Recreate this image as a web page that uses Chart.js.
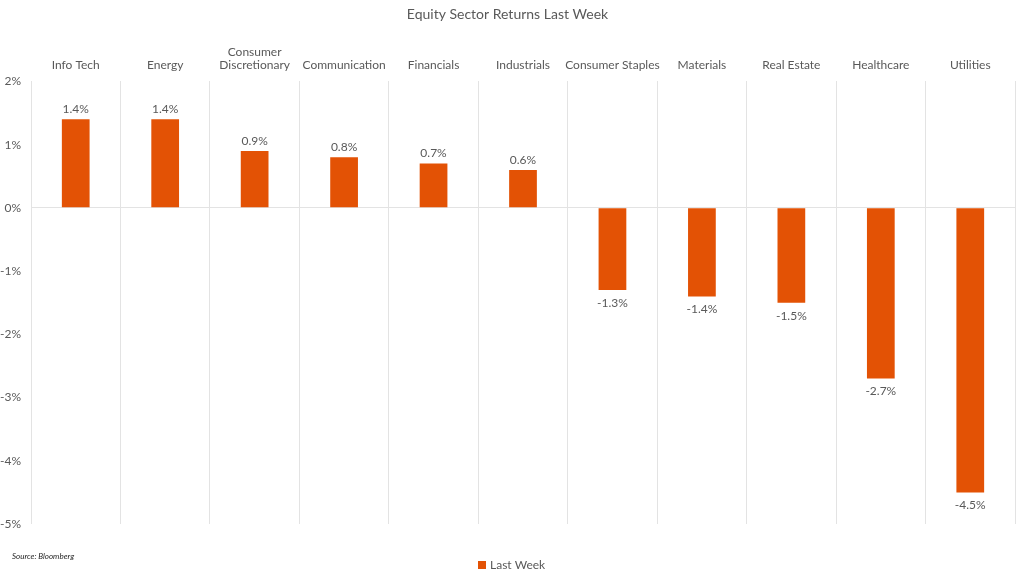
<!DOCTYPE html>
<html><head><meta charset="utf-8">
<script src="https://cdn.jsdelivr.net/npm/chart.js@4/dist/chart.umd.min.js"></script>
<style>html,body{margin:0;padding:0;background:#fff;}#wrap{width:1024px;height:580px;position:relative;}</style>
</head><body><div id="wrap"><canvas id="c" width="1024" height="580"></canvas></div>
<script>
const categories = ['Info Tech','Energy',['Consumer','Discretionary'],'Communication','Financials','Industrials','Consumer Staples','Materials','Real Estate','Healthcare','Utilities'];
const lastWeek = [1.4,1.4,0.9,0.8,0.7,0.6,-1.3,-1.4,-1.5,-2.7,-4.5];
const yTicks = [-5,-4,-3,-2,-1,0,1,2];
const titleText = 'Equity Sector Returns Last Week';
const seriesName = 'Last Week';
const sourceText = 'Source: Bloomberg';

const FONT = 'Lato, "Open Sans", sans-serif';
const TXT = '#595959';
const BAR = '#E35205';

const labelPlugin = {
  id: 'barLabels',
  afterDatasetsDraw(chart) {
    const ctx = chart.ctx;
    const meta = chart.getDatasetMeta(0);
    ctx.save();
    ctx.font = '12px ' + FONT;
    ctx.fillStyle = TXT;
    ctx.textAlign = 'center';
    ctx.textBaseline = 'middle';
    meta.data.forEach((bar, i) => {
      const v = chart.data.datasets[0].data[i];
      const txt = v.toFixed(1) + '%';
      if (v >= 0) ctx.fillText(txt, bar.x, bar.y - 10);
      else ctx.fillText(txt, bar.x, bar.y + 13);
    });
    ctx.restore();
  }
};
const footerPlugin = {
  id: 'footer',
  afterDraw(chart) {
    const ctx = chart.ctx;
    ctx.save();
    ctx.font = 'italic 8px ' + FONT;
    ctx.fillStyle = '#262626';
    ctx.textAlign = 'left';
    ctx.textBaseline = 'middle';
    ctx.fillText(sourceText, 12, 556);
    const ds = chart.data.datasets[0];
    ctx.font = '12px ' + FONT;
    const tw = ctx.measureText(ds.label).width;
    const total = 8 + 4 + tw;
    const x0 = Math.round(512 - total / 2);
    ctx.fillStyle = ds.backgroundColor;
    ctx.fillRect(x0, 561, 8, 8);
    ctx.fillStyle = TXT;
    ctx.fillText(ds.label, x0 + 12, 565);
    ctx.restore();
  }
};

new Chart(document.getElementById('c'), {
  type: 'bar',
  data: { labels: categories, datasets: [{ label: seriesName, data: lastWeek, backgroundColor: BAR, borderWidth: 0, barPercentage: 0.31, categoryPercentage: 1.0 }] },
  options: {
    responsive: false, animation: false,
    layout: { padding: { left: 0, right: 9, top: 0, bottom: 56 } },
    plugins: {
      title: { display: true, text: titleText, color: TXT, font: { family: FONT, size: 14, weight: 'normal' }, padding: { top: 6, bottom: 13 } },
      legend: { display: false },
      tooltip: { enabled: false }
    },
    scales: {
      x: { position: 'top', grid: { display: true, offset: true, color: '#e3e3e3', drawTicks: false }, border: { display: false },
           ticks: { color: TXT, font: { family: FONT, size: 12, lineHeight: 1.15 }, padding: 9, maxRotation: 0, autoSkip: false } },
      y: { min: -5, max: 2, border: { display: false },
           afterFit(axis) { axis.width = 31; },
           afterBuildTicks(axis) { axis.ticks = yTicks.map(v => ({ value: v })); },
           grid: { drawTicks: false, color: ctx => ctx.tick && ctx.tick.value === 0 ? '#e3e3e3' : 'rgba(0,0,0,0)' },
           ticks: { color: TXT, font: { family: FONT, size: 12 }, padding: 10, callback: v => v + '%' } }
    }
  },
  plugins: [labelPlugin, footerPlugin]
});
</script></body></html>
